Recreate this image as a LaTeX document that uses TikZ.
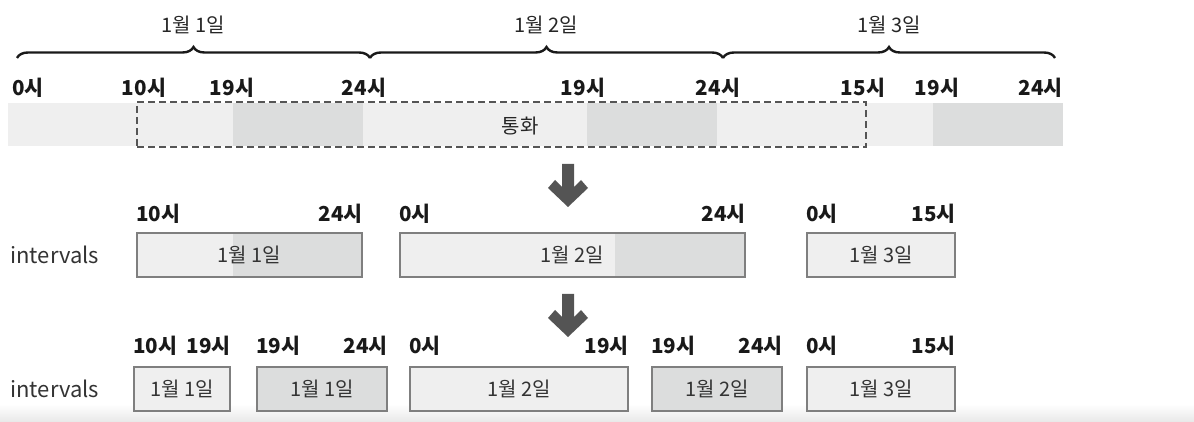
\documentclass[tikz,border=0pt]{standalone}
\usepackage{fontspec}
\setmainfont{Noto Sans CJK KR}
\usepackage{tikz}
\usetikzlibrary{positioning,decorations.pathreplacing}
\definecolor{barlite}{HTML}{EFEFEF}
\definecolor{bardark}{HTML}{DCDDDD}
\definecolor{boxline}{HTML}{7F7F7F}
\definecolor{dashline}{HTML}{555555}
\definecolor{arrowgray}{HTML}{545454}

\begin{document}
\begin{tikzpicture}[x=0.5pt,y=-0.5pt,
  every node/.style={inner sep=0pt, font=\fontsize{10}{12}\selectfont},
  hour/.style={font=\fontsize{10.3}{12}\selectfont\bfseries, text=black!90},
  day/.style={text=black!85},
  ivbox/.style={draw=boxline, line width=1.1pt, minimum height=22pt, text=black!80},
  callbox/.style={draw=dashline, dash pattern=on 3.5pt off 2pt, line width=1pt, minimum height=22.5pt},
  daybrace/.style={decorate, decoration={brace, amplitude=5.5pt}, line width=1.2pt, black!90},
  darrow/.pic={\fill[arrowgray] (-6,0) -- (6,0) -- (6,23) -- (13,16) -- (20,24) -- (0,43) -- (-20,24) -- (-13,16) -- (-6,23) -- cycle;}
]
\useasboundingbox (0,0) rectangle (1194,422);
\shade[top color=white, bottom color=black!9] (0,404) rectangle (1194,422);

% the days
\foreach \a/\b/\t [count=\i] in {17/370/1월 1일, 370/723/1월 2일, 723/1055/1월 3일} {
  \coordinate (Bs\i) at (\a,58);
  \coordinate (Be\i) at (\b,58);
  \draw[daybrace] (Bs\i) -- (Be\i);
  \node[day] (D\i) at ({(\a+\b)/2},25) {\t};
}

% the hours
\foreach \x/\t/\a [count=\i] in {12/0시/base west, 144/10시/base, 232/19시/base, 364/24시/base,
    583/19시/base, 718/24시/base, 863/15시/base, 937/19시/base, 1063/24시/base east}
  \node[hour, anchor=\a] (H\i) at (\x,96) {\t};

% the time bar
\fill[barlite] (8,103) rectangle (1063,146);
\foreach \a/\b in {233/363, 587/717, 933/1063}
  \fill[bardark] (\a,103) rectangle (\b,146);
\node[callbox, minimum width={(866-137)*0.5pt}] (call) at ({(137+866)/2},124.5) {};
\node[day] (callt) at (520,126) {통화};

\pic at (568,164) {darrow};

% the intervals per day
\node[anchor=west, font=\fontsize{11}{13}\selectfont, text=black!80] (I1) at (10,255) {intervals};
\fill[barlite] (137,233) rectangle (362,277);
\fill[bardark] (233,233) rectangle (362,277);
\fill[barlite] (400,233) rectangle (745,277);
\fill[bardark] (615,233) rectangle (745,277);
\fill[barlite] (807,233) rectangle (955,277);
\foreach \a/\b/\t/\l/\r [count=\i] in {137/362/1월 1일/10시/24시, 400/745/1월 2일/0시/24시, 807/955/1월 3일/0시/15시} {
  \node[ivbox, minimum width={(\b-\a)*0.5pt}] (A\i) at ({(\a+\b)/2},255) {\t};
  \node[hour, anchor=base west] (Al\i) at ([yshift=5pt]A\i.north west) {\l};
  \node[hour, anchor=base east] (Ar\i) at ([yshift=5pt]A\i.north east) {\r};
}

\pic at (568,294) {darrow};

% the intervals split at 19h
\node[anchor=west, font=\fontsize{11}{13}\selectfont, text=black!80] (I2) at (10,389) {intervals};
\foreach \a/\b/\t/\l/\r/\c [count=\i] in {134/230/1월 1일/10시/19시/barlite, 257/387/1월 1일/19시/24시/bardark,
    410/628/1월 2일/0시/19시/barlite, 652/782/1월 2일/19시/24시/bardark, 807/955/1월 3일/0시/15시/barlite} {
  \node[ivbox, fill=\c, minimum width={(\b-\a)*0.5pt}] (C\i) at ({(\a+\b)/2},389) {\t};
  \node[hour, anchor=base west] (Cl\i) at ([yshift=6pt]C\i.north west) {\l};
  \node[hour, anchor=base east] (Cr\i) at ([yshift=6pt]C\i.north east) {\r};
}

\end{tikzpicture}
\end{document}
